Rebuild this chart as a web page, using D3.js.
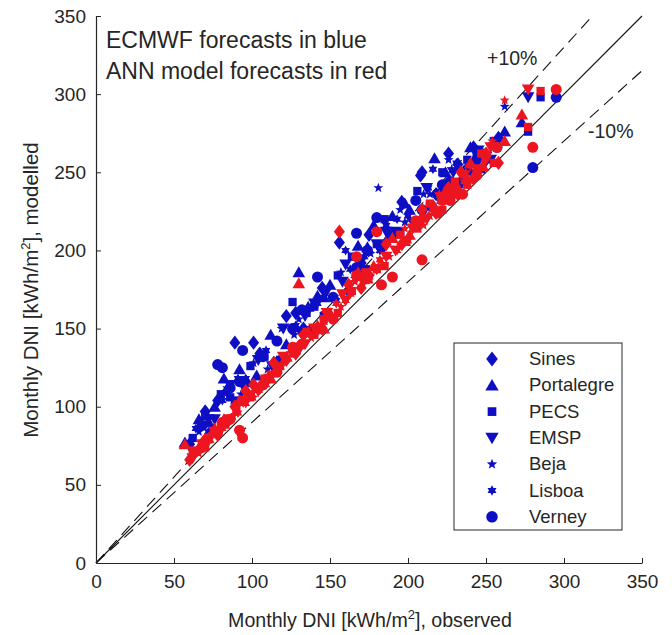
<!DOCTYPE html>
<html>
<head>
<meta charset="utf-8">
<script src="https://cdn.jsdelivr.net/npm/d3@7"></script>
<style>
  body { margin: 0; background: #fff; }
  text { font-family: "Liberation Sans", Arial, sans-serif; fill: #262626; }
</style>
</head>
<body>
<div id="chart"></div>
<script>
// ---------- data (monthly DNI, kWh/m2) ----------
const stations = ["Sines", "Portalegre", "PECS", "EMSP", "Beja", "Lisboa", "Verney"];
const shapes   = ["diamond", "triangleUp", "square", "triangleDown", "pentagram", "hexagram", "circle"];

const xTicks = [0, 50, 100, 150, 200, 250, 300, 350];
const yTicks = [0, 50, 100, 150, 200, 250, 300, 350];

// observed / ECMWF / ANN for each station
const sinesObs = [60, 70, 78, 89, 96, 105, 114, 122, 133, 145, 156, 162, 175, 186, 196, 208, 209, 218, 226, 234, 242, 250, 258, 101, 128, 170, 232, 84];
const sinesEcm = [76, 97, 104, 141, 116, 134, 128, 158, 150, 176, 205, 174, 210, 205, 231, 248, 250, 236, 262, 244, 266, 258, 272, 141, 160, 192, 255, 110];
const sinesAnn = [66, 79, 82, 100, 110, 112, 128, 130, 146, 150, 212, 178, 184, 204, 204, 219, 226, 224, 240, 250, 246, 262, 256, 114, 134, 176, 236, 90];

const portObs = [57, 66, 72, 82, 92, 103, 112, 122, 130, 142, 150, 168, 174, 178, 190, 201, 217, 224, 232, 240, 248, 273, 262, 136, 146, 198, 238, 76];
const portEcm = [77, 92, 90, 118, 124, 120, 146, 140, 186, 171, 178, 203, 202, 216, 222, 226, 259, 250, 243, 266, 262, 282, 276, 164, 170, 230, 254, 100];
const portAnn = [76, 74, 80, 92, 104, 112, 118, 132, 179, 152, 160, 186, 182, 190, 208, 210, 228, 238, 240, 256, 254, 287, 270, 148, 150, 206, 246, 86];

const pecsObs = [62, 70, 80, 90, 99, 108, 118, 126, 135, 146, 155, 164, 173, 185, 195, 206, 214, 222, 230, 238, 247, 255, 277, 285, 140, 180, 244, 86];
const pecsEcm = [80, 94, 108, 104, 126, 132, 130, 167, 160, 158, 184, 196, 188, 220, 212, 238, 228, 250, 236, 258, 252, 270, 276, 298, 164, 204, 262, 106];
const pecsAnn = [72, 74, 88, 98, 106, 118, 126, 134, 148, 156, 160, 174, 186, 190, 210, 214, 230, 226, 244, 242, 262, 256, 279, 302, 146, 188, 250, 92];

const emspObs = [62, 68, 76, 86, 95, 104, 113, 120, 131, 140, 148, 160, 170, 180, 192, 203, 212, 221, 229, 236, 245, 253, 277, 158, 134, 186, 250, 72];
const emspEcm = [71, 88, 92, 114, 112, 130, 126, 150, 148, 166, 174, 191, 184, 204, 212, 218, 240, 236, 250, 248, 264, 258, 298, 180, 158, 212, 260, 92];
const emspAnn = [67, 76, 84, 92, 104, 110, 120, 132, 138, 150, 160, 168, 182, 188, 200, 214, 220, 234, 236, 248, 252, 266, 303, 172, 140, 196, 258, 78];

const bejaObs = [66, 74, 84, 93, 101, 110, 119, 127, 138, 147, 157, 166, 181, 188, 198, 210, 220, 228, 237, 246, 262, 254, 226, 195, 130, 176, 214, 88];
const bejaEcm = [84, 88, 112, 108, 128, 124, 150, 146, 164, 160, 186, 182, 240, 210, 218, 236, 232, 252, 248, 262, 292, 268, 258, 226, 156, 198, 236, 104];
const bejaAnn = [70, 82, 88, 102, 106, 120, 126, 138, 144, 160, 164, 180, 190, 196, 214, 216, 236, 234, 250, 252, 296, 270, 238, 210, 138, 184, 222, 94];

const lisbObs = [64, 72, 81, 91, 100, 109, 117, 128, 137, 146, 154, 163, 172, 182, 193, 204, 213, 223, 231, 240, 249, 216, 186, 160, 142, 200, 236, 96];
const lisbEcm = [86, 84, 104, 118, 114, 136, 130, 152, 150, 170, 168, 188, 196, 200, 220, 216, 240, 238, 256, 250, 262, 252, 216, 200, 166, 222, 252, 118];
const lisbAnn = [70, 78, 86, 96, 108, 114, 126, 136, 146, 154, 166, 172, 180, 194, 200, 216, 222, 236, 240, 254, 258, 226, 196, 168, 148, 206, 244, 102];

const verObs = [68, 78, 81, 94, 92, 107, 116, 126, 142, 152, 167, 180, 190, 183, 205, 209, 219, 227, 235, 244, 257, 280, 295, 167, 132, 174, 222, 86];
const verEcm = [88, 127, 125, 136, 116, 132, 142, 150, 183, 170, 189, 221, 210, 202, 232, 226, 236, 244, 250, 258, 266, 253, 298, 211, 162, 200, 242, 112];
const verAnn = [74, 84, 90, 80, 85, 114, 122, 138, 150, 156, 196, 212, 183, 178, 219, 194, 224, 232, 236, 248, 266, 266, 303, 184, 140, 182, 232, 92];

const obsByStation = [sinesObs, portObs, pecsObs, emspObs, bejaObs, lisbObs, verObs];
const ecmByStation = [sinesEcm, portEcm, pecsEcm, emspEcm, bejaEcm, lisbEcm, verEcm];
const annByStation = [sinesAnn, portAnn, pecsAnn, emspAnn, bejaAnn, lisbAnn, verAnn];

const blue = "#0e0ec4";
const red = "#ec1520";

// ---------- canvas ----------
const W = 672, H = 635;
const plot = {left: 96, right: 642, top: 16, bottom: 563};

const svg = d3.select("#chart").append("svg")
    .attr("width", W)
    .attr("height", H);

const x = d3.scaleLinear().domain([0, 350]).range([plot.left, plot.right]);
const y = d3.scaleLinear().domain([0, 350]).range([plot.bottom, plot.top]);

// ---------- marker shapes (matlab-like) ----------
function symbolPath(shape, r) {
    const p = d3.path();
    if (shape === "diamond") {
        p.moveTo(0, -r * 1.3); p.lineTo(r, 0); p.lineTo(0, r * 1.3); p.lineTo(-r, 0); p.closePath();
    } else if (shape === "triangleUp") {
        p.moveTo(0, -r * 1.1); p.lineTo(r * 1.15, r * 0.9); p.lineTo(-r * 1.15, r * 0.9); p.closePath();
    } else if (shape === "triangleDown") {
        p.moveTo(0, r * 1.1); p.lineTo(r * 1.15, -r * 0.9); p.lineTo(-r * 1.15, -r * 0.9); p.closePath();
    } else if (shape === "square") {
        const s = r * 0.75;
        p.rect(-s, -s, 2 * s, 2 * s);
    } else if (shape === "circle") {
        p.arc(0, 0, r, 0, 2 * Math.PI);
    } else if (shape === "pentagram") {
        const R = r * 0.95, ri = R * 0.42;
        for (let i = 0; i < 10; i++) {
            const a = -Math.PI / 2 + i * Math.PI / 5;
            const rr = i % 2 ? ri : R;
            if (i === 0) p.moveTo(rr * Math.cos(a), rr * Math.sin(a));
            else p.lineTo(rr * Math.cos(a), rr * Math.sin(a));
        }
        p.closePath();
    } else if (shape === "hexagram") {
        const R = r * 0.9, ri = R * 0.58;
        for (let i = 0; i < 12; i++) {
            const a = -Math.PI / 2 + i * Math.PI / 6;
            const rr = i % 2 ? ri : R;
            if (i === 0) p.moveTo(rr * Math.cos(a), rr * Math.sin(a));
            else p.lineTo(rr * Math.cos(a), rr * Math.sin(a));
        }
        p.closePath();
    }
    return p.toString();
}

// ---------- reference lines (1:1, +10%, -10%) ----------
const lines = svg.append("g").attr("stroke", "#111").attr("fill", "none").attr("stroke-width", 1.1);
lines.append("line")
    .attr("x1", x(0)).attr("y1", y(0)).attr("x2", x(350)).attr("y2", y(350));
lines.append("line")
    .attr("x1", x(0)).attr("y1", y(0)).attr("x2", x(350 / 1.1)).attr("y2", y(350))
    .attr("stroke-dasharray", "12,7");
lines.append("line")
    .attr("x1", x(0)).attr("y1", y(0)).attr("x2", x(350)).attr("y2", y(350 * 0.9))
    .attr("stroke-dasharray", "12,7");

// ---------- points ----------
function pointsFor(ys) {
    const pts = [];
    stations.forEach((s, i) => {
        obsByStation[i].forEach((o, j) => pts.push({shape: shapes[i], obs: o, mod: ys[i][j]}));
    });
    return pts;
}

svg.append("g").selectAll("path")
    .data(pointsFor(ecmByStation))
    .join("path")
    .attr("d", d => symbolPath(d.shape, 5.5))
    .attr("transform", d => `translate(${x(d.obs)},${y(d.mod)})`)
    .attr("fill", blue);

svg.append("g").selectAll("path")
    .data(pointsFor(annByStation))
    .join("path")
    .attr("d", d => symbolPath(d.shape, 5.5))
    .attr("transform", d => `translate(${x(d.obs)},${y(d.mod)})`)
    .attr("fill", red);

// ---------- axes (ticks inside, no box) ----------
const xAxis = svg.append("g")
    .attr("transform", `translate(0,${plot.bottom})`)
    .call(d3.axisBottom(x).tickValues(xTicks).tickSizeInner(-5).tickSizeOuter(0).tickPadding(12));
const yAxis = svg.append("g")
    .attr("transform", `translate(${plot.left},0)`)
    .call(d3.axisLeft(y).tickValues(yTicks).tickSizeInner(-5).tickSizeOuter(0).tickPadding(10));

[xAxis, yAxis].forEach(a => {
    a.select(".domain").attr("stroke", "#262626").attr("stroke-width", 1.2);
    a.selectAll(".tick line").attr("stroke", "#262626");
    a.selectAll("text")
        .style("font-family", "'Liberation Sans', Arial, sans-serif")
        .style("font-size", "19px")
        .attr("fill", "#262626");
});

// axis titles
const xt = svg.append("text")
    .attr("x", 370).attr("y", 627)
    .attr("text-anchor", "middle")
    .style("font-size", "19.6px");
xt.append("tspan").text("Monthly DNI [kWh/m");
xt.append("tspan").attr("dy", -8).style("font-size", "13px").text("2");
xt.append("tspan").attr("dy", 8).text("], observed");

const yt = svg.append("text")
    .attr("transform", "translate(38,290) rotate(-90)")
    .attr("text-anchor", "middle")
    .style("font-size", "20.5px");
yt.append("tspan").text("Monthly DNI [kWh/m");
yt.append("tspan").attr("dy", -8).style("font-size", "13px").text("2");
yt.append("tspan").attr("dy", 8).text("], modelled");

// ---------- annotations ----------
svg.append("text").attr("x", 106).attr("y", 48).style("font-size", "23px").text("ECMWF forecasts in blue");
svg.append("text").attr("x", 106).attr("y", 79).style("font-size", "23px").text("ANN model forecasts in red");
svg.append("text").attr("x", 487).attr("y", 65).style("font-size", "19.5px").text("+10%");
svg.append("text").attr("x", 588).attr("y", 138).style("font-size", "19.5px").text("-10%");

// ---------- legend ----------
const legend = svg.append("g").attr("transform", "translate(454,343)");
legend.append("rect")
    .attr("width", 168).attr("height", 187)
    .attr("fill", "#fff").attr("stroke", "#262626").attr("stroke-width", 1);

stations.forEach((s, i) => {
    const ly = 16 + i * 26.3;
    legend.append("path")
        .attr("d", symbolPath(shapes[i], 5.8))
        .attr("transform", `translate(38,${ly})`)
        .attr("fill", blue);
    legend.append("text")
        .attr("x", 75).attr("y", ly + 6)
        .style("font-size", "18.5px")
        .text(s);
});
</script>
</body>
</html>
